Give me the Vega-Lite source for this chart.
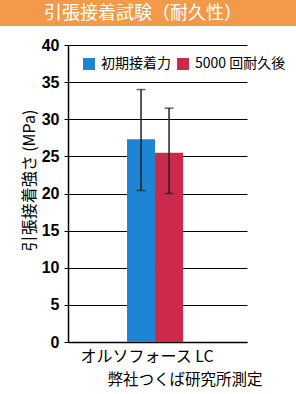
{
  "$schema": "https://vega.github.io/schema/vega-lite/v6.json",
  "padding": 0,
  "background": "white",
  "spacing": 19,
  "align": {"column": "all", "row": "none"},
  "bounds": "flush",
  "center": true,
  "resolve": {"legend": {"color": "independent"}, "scale": {"color": "independent"}},
  "config": {
    "view": {"stroke": null},
    "axisY": {"labelOverlap": false, "grid": true, "gridColor": "black", "gridOpacity": 1, "gridWidth": 1.2,
      "domainColor": "black", "domainWidth": 1.5, "tickColor": "black", "tickSize": 4,
      "labelFont": "Liberation Sans", "labelFontWeight": "bold", "labelFontSize": 16, "labelColor": "black", "labelPadding": 5,
      "titleFont": "Noto Sans CJK JP", "titleFontSize": 16, "titleFontWeight": "normal",
      "titleColor": "black", "titlePadding": 4, "titleY": 135}
  },
  "vconcat": [
    {
      "width": 315,
      "height": 26,
      "view": {"fill": "#F29A4A", "stroke": null},
      "data": {"values": [{"t": "引張接着試験（耐久性）"}]},
      "mark": {"type": "text", "color": "white", "font": "Noto Sans CJK JP", "fontSize": 18, "baseline": "middle", "align": "center", "dx": -14.5, "dy": 0.5},
      "encoding": {"text": {"field": "t"}}
    },
    {
      "width": 179,
      "height": 297,
      "data": {"values": [
        {"cat": "オルソフォース LC", "series": "初期接着力", "value": 27.3, "lo": 20.4, "hi": 34.0},
        {"cat": "オルソフォース LC", "series": "5000 回耐久後", "value": 25.5, "lo": 20.0, "hi": 31.5}
      ]},
      "encoding": {
        "x": {"field": "cat", "type": "nominal",
          "scale": {"paddingInner": 0.5, "paddingOuter": 0.549, "align": 0.48},
          "axis": {"labelAngle": 0, "ticks": false, "domainColor": "black", "domainWidth": 1.5,
            "labelFont": "Noto Sans CJK JP", "labelFontSize": 16, "labelColor": "black", "labelPadding": 6, "labelOffset": -8,
            "title": "弊社つくば研究所測定", "titleFont": "Noto Sans CJK JP", "titleFontSize": 15.5, "titleFontWeight": "normal",
            "titleColor": "black", "titleX": 194, "titleAlign": "right", "titlePadding": 8}},
        "xOffset": {"field": "series", "type": "nominal", "sort": ["初期接着力", "5000 回耐久後"], "scale": {"paddingInner": 0, "paddingOuter": 0}}
      },
      "layer": [
        {
          "mark": {"type": "bar"},
          "encoding": {
            "y": {"field": "value", "type": "quantitative",
              "scale": {"domain": [0, 40], "nice": false},
              "axis": {"values": [0, 5, 10, 15, 20, 25, 30, 35, 40], "tickCount": 9, "title": "引張接着強さ (MPa)"}},
            "color": {"field": "series", "type": "nominal",
              "scale": {"domain": ["初期接着力", "5000 回耐久後"], "range": ["#1E84D4", "#CC2A4C"]},
              "legend": {"title": null, "orient": "none", "legendX": 14, "legendY": 12, "direction": "horizontal",
                "symbolType": "square", "symbolSize": 144, "symbolStrokeWidth": 0, "labelFont": "Noto Sans CJK JP", "labelFontSize": 14,
                "labelColor": "black", "labelOffset": 5, "columnPadding": 5}}
          }
        },
        {
          "mark": {"type": "rule", "color": "#222", "strokeWidth": 1.5},
          "encoding": {"y": {"field": "lo", "type": "quantitative", "axis": {"values": [0, 5, 10, 15, 20, 25, 30, 35, 40], "tickCount": 9, "title": "引張接着強さ (MPa)"}}, "y2": {"field": "hi"}}
        },
        {
          "mark": {"type": "tick", "color": "#222", "size": 9, "thickness": 1.5},
          "encoding": {"y": {"field": "lo", "type": "quantitative", "axis": {"values": [0, 5, 10, 15, 20, 25, 30, 35, 40], "tickCount": 9, "title": "引張接着強さ (MPa)"}}}
        },
        {
          "mark": {"type": "tick", "color": "#222", "size": 9, "thickness": 1.5},
          "encoding": {"y": {"field": "hi", "type": "quantitative", "axis": {"values": [0, 5, 10, 15, 20, 25, 30, 35, 40], "tickCount": 9, "title": "引張接着強さ (MPa)"}}}
        }
      ]
    }
  ]
}
